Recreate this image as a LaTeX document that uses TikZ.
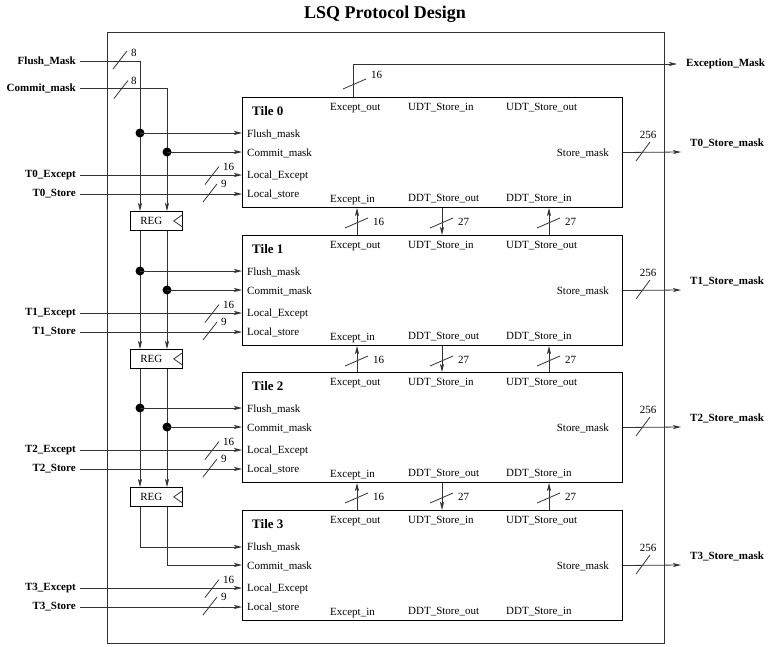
\documentclass[tikz,border=0pt]{standalone}
\usepackage{fontspec}
\setmainfont{Liberation Serif}
\usetikzlibrary{arrows.meta,calc}
\newcommand\busH[3]{\draw[wire] ($(#1)+(-7,9)$) -- ($(#1)+(7,-9)$); \node[num,anchor=west] at ($(#1)+(#2)$) {#3};}
\newcommand\busV[3]{\draw[wire] ($(#1)+(-12,5)$) -- ($(#1)+(11,-5)$); \node[num,anchor=west] at ($(#1)+(#2)$) {#3};}
\begin{document}
\begin{tikzpicture}[x=1pt,y=-1pt,
  wire/.style={draw=black!80, line width=0.8pt},
  arr/.style={wire,-{Stealth[length=8pt,width=4pt,inset=2pt]}},
  tile/.style={draw, line width=1pt, minimum width=380pt, minimum height=110pt, anchor=north west, inner sep=0pt},
  port/.style={font=\fontsize{11}{12}\selectfont, inner sep=0pt},
  sig/.style={font=\bfseries\fontsize{11}{12}\selectfont, inner sep=0pt},
  num/.style={font=\fontsize{11}{12}\selectfont, inner sep=0pt},
  tilelab/.style={font=\bfseries\fontsize{13}{14}\selectfont, inner sep=0pt, anchor=west},
  regbox/.style={draw, line width=0.8pt, minimum width=52pt, minimum height=19pt, anchor=north west, inner sep=0pt},
  dot/.style={circle, fill=black, inner sep=0pt, minimum size=9pt},
]
\useasboundingbox (0,0) rectangle (768,646);
\node[font=\bfseries\fontsize{18}{20}\selectfont] (title) at (385,14) {LSQ Protocol Design};
\node[draw=black!80, line width=0.8pt, minimum width=557pt, minimum height=611pt, anchor=north west, inner sep=0pt] (outer) at (107,32) {};

% tiles
\foreach \i/\y in {0/97,1/235,2/372,3/510} {
  \node[tile] (t\i) at (242,\y) {};
  \node[tilelab] (tl\i) at (252,\y+14) {Tile \i};
  \node[port,anchor=west] (pxo\i) at (330,\y+11) {Except\_out};
  \node[port,anchor=west] (pui\i) at (408,\y+11) {UDT\_Store\_in};
  \node[port,anchor=west] (puo\i) at (506,\y+11) {UDT\_Store\_out};
  \node[port,anchor=west] (pfm\i) at (247,\y+37) {Flush\_mask};
  \node[port,anchor=west] (pcm\i) at (247,\y+56) {Commit\_mask};
  \node[port,anchor=west] (ple\i) at (247,\y+79) {Local\_Except};
  \node[port,anchor=west] (pls\i) at (247,\y+97) {Local\_store};
  \node[port,anchor=east] (psm\i) at (609,\y+56) {Store\_mask};
  \node[port,anchor=west] (pxi\i) at (330,\y+103) {Except\_in};
  \node[port,anchor=west] (pdo\i) at (408,\y+102) {DDT\_Store\_out};
  \node[port,anchor=west] (pdi\i) at (506,\y+102) {DDT\_Store\_in};
  % local inputs
  \node[sig,anchor=east] (ex\i) at (76,\y+78) {T\i\_Except};
  \node[sig,anchor=east] (st\i) at (76,\y+97) {T\i\_Store};
  \draw[arr] ([xshift=4pt]ex\i.east) -- (ex\i -| t\i.west);
  \draw[arr] ([xshift=4pt]st\i.east) -- (st\i -| t\i.west);
  \coordinate (bx\i) at (212,\y+78.5);
  \busH{bx\i}{11,-9}{16}
  \coordinate (bs\i) at (210,\y+96);
  \busH{bs\i}{11,-9}{9}
  % store mask outputs
  \node[sig,anchor=west] (sm\i) at (690,\y+46) {T\i\_Store\_mask};
  \coordinate (so\i) at (681,\y+55);
  \draw[arr] (t\i.east) -- (so\i);
  \coordinate (bm\i) at (643,\y+55);
  \draw[wire] ($(bm\i)+(-7,9)$) -- ($(bm\i)+(7,-10)$);
  \node[num] (nm\i) at (648,\y+38) {256};
}

% tile-to-tile links
\foreach \k/\n in {0/1,1/2,2/3} {
  \draw[arr] ($(t\n.north west)+(115,0)$) -- ($(t\k.south west)+(115,0)$);
  \draw[arr] ($(t\k.south west)+(200,0)$) -- ($(t\n.north west)+(200,0)$);
  \draw[arr] ($(t\n.north west)+(307,0)$) -- ($(t\k.south west)+(307,0)$);
  \coordinate (ve\k) at ($(t\k.south west)+(115,15)$);
  \coordinate (vo\k) at ($(t\k.south west)+(200,15)$);
  \coordinate (vi\k) at ($(t\k.south west)+(307,15)$);
  \busV{ve\k}{16,-1}{16}
  \busV{vo\k}{16,-1}{27}
  \busV{vi\k}{16,-1}{27}
}

% exception mask output
\node[sig,anchor=west] (em) at (686,64) {Exception\_Mask};
\draw[arr] ($(t0.north west)+(111,0)$) |- ([xshift=-9pt]em.west);
\coordinate (be) at (355,84);
\busV{be}{16,-9}{16}

% registers
\foreach \k/\y in {0/211,1/349,2/487} {
  \node[regbox] (r\k) at (130,\y) {};
  \node[port] (rl\k) at ($(r\k.center)+(-5,0)$) {REG};
  \draw[wire] ($(r\k.north east)+(0,3.5)$) -- ($(r\k.east)+(-9,0)$) -- ($(r\k.south east)+(0,-3.5)$);
}

% global masks
\node[sig,anchor=east] (fm) at (76,61) {Flush\_Mask};
\node[sig,anchor=east] (cm) at (76,88) {Commit\_mask};
\draw[arr] ([xshift=4pt]fm.east) -| ([xshift=10pt]r0.north west);
\draw[arr] ([xshift=4pt]cm.east) -| ([xshift=37pt]r0.north west);
\coordinate (bf) at (120,60);
\busH{bf}{11,-7}{8}
\coordinate (bc) at (121,89.5);
\busH{bc}{10,-9}{8}

\draw[arr] ([xshift=10pt]r0.south west) -- ([xshift=10pt]r1.north west);
\draw[arr] ([xshift=37pt]r0.south west) -- ([xshift=37pt]r1.north west);
\draw[arr] ([xshift=10pt]r1.south west) -- ([xshift=10pt]r2.north west);
\draw[arr] ([xshift=37pt]r1.south west) -- ([xshift=37pt]r2.north west);
\draw[arr] ([xshift=10pt]r2.south west) |- ($(t3.north west)+(0,37)$);
\draw[arr] ([xshift=37pt]r2.south west) |- ($(t3.north west)+(0,55)$);

\foreach \i/\y in {0/97,1/235,2/372} {
  \node[dot] (df\i) at (140,\y+36) {};
  \node[dot] (dc\i) at (167,\y+55) {};
  \draw[arr] (df\i.center) -- (df\i -| t\i.west);
  \draw[arr] (dc\i.center) -- (dc\i -| t\i.west);
}
\end{tikzpicture}
\end{document}
